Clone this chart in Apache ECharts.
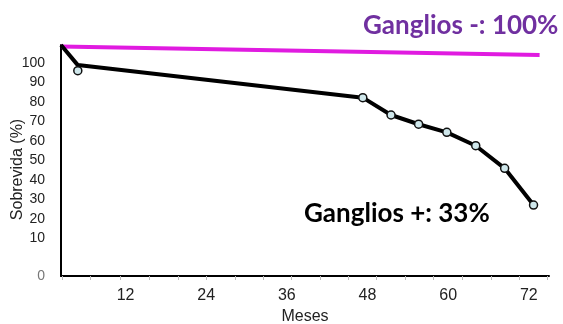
<!DOCTYPE html>
<html>
<head>
<meta charset="utf-8">
<script src="https://cdn.jsdelivr.net/npm/echarts@6/dist/echarts.min.js"></script>
<style>
html,body{margin:0;padding:0;background:#fff;}
#chart{width:563px;height:324px;}
</style>
</head>
<body>
<div id="chart"></div>
<script>
// X axis (months)
var xLabelValues = [12, 24, 36, 48, 60, 72];
var xTickValues = [2.53, 6.75, 11.26, 15.57, 19.78, 24.0, 28.25, 32.52, 36.64, 40.95, 45.16, 49.37, 53.64, 57.8, 62.07, 66.38, 70.59, 74.8];
// Y axis tick labels as drawn on the slide
var yLabelValues = [10, 20, 30, 40, 50, 60, 70, 80, 90, 100];
var yZeroLabel = [0];

// Ganglios + (black curve)
var lineMonths = [2.4, 4.9, 47.3, 51.5, 55.6, 59.8, 64.1, 68.4, 72.7];
var lineValues = [100, 91.3, 77.2, 69.7, 65.7, 62.2, 56.4, 46.6, 30.7];
// Markers on the black curve
var markerMonths = [4.9, 47.3, 51.5, 55.6, 59.8, 64.1, 68.4, 72.7];
var markerValues = [88.9, 77.2, 69.7, 65.7, 62.2, 56.4, 46.6, 30.7];
// Ganglios - (pink line)
var pinkMonths = [2.4, 73.6];
var pinkValues = [99.3, 95.7];

function pairs(xs, ys) { return xs.map(function (x, i) { return [x, ys[i]]; }); }

var chart = echarts.init(document.getElementById('chart'), null, { renderer: 'canvas' });
chart.setOption({
  animation: false,
  backgroundColor: '#ffffff',
  title: [
    { text: 'Ganglios -: 100%', left: 358, top: 8,
      textStyle: { fontFamily: 'Lato', fontWeight: 'bold', fontSize: 26, color: '#7030a0' } },
    { text: 'Ganglios +: 33%', left: 299, top: 196,
      textStyle: { fontFamily: 'Lato', fontWeight: 'bold', fontSize: 26, color: '#000000' } }
  ],
  grid: { left: 61, right: 14, top: 45, bottom: 48, outerBoundsMode: 'none', containLabel: false },
  xAxis: {
    type: 'value', min: 2.4, max: 75,
    name: 'Meses', nameLocation: 'middle', nameGap: 33,
    nameTextStyle: { fontFamily: 'Liberation Sans', fontSize: 16, color: '#222' },
    axisLine: { show: true, onZero: false, lineStyle: { color: '#000', width: 2 } },
    axisTick: { show: true, customValues: xTickValues, length: 4, lineStyle: { color: '#bbbbbb', width: 1 } },
    axisLabel: { customValues: xLabelValues, fontFamily: 'Liberation Sans', fontSize: 16, color: '#222', margin: 12 },
    splitLine: { show: false }
  },
  yAxis: [
    {
      type: 'value', min: 0, max: 100, position: 'left',
      name: 'Sobrevida (%)', nameLocation: 'middle', nameGap: 35, nameRotate: 90,
      nameTextStyle: { fontFamily: 'Liberation Sans', fontSize: 16, color: '#222', padding: [0, 18, 0, 0] },
      axisLine: { show: true, onZero: false, lineStyle: { color: '#000', width: 2 } },
      axisTick: { show: false },
      axisLabel: { customValues: yZeroLabel, fontFamily: 'Liberation Sans', fontSize: 14, color: '#777', margin: 16 },
      splitLine: { show: false }
    },
    {
      type: 'value', min: -9.2, max: 109.2, position: 'left', offset: 0,
      axisLine: { show: false },
      axisTick: { show: false },
      axisLabel: { customValues: yLabelValues, fontFamily: 'Liberation Sans', fontSize: 14, color: '#222', margin: 16 },
      splitLine: { show: false }
    }
  ],
  series: [
    { type: 'line', data: pairs(pinkMonths, pinkValues), yAxisIndex: 0,
      showSymbol: false, symbol: 'none', lineStyle: { color: '#e01be0', width: 4 }, z: 2 },
    { type: 'line', data: pairs(lineMonths, lineValues), yAxisIndex: 0,
      showSymbol: false, symbol: 'none', lineStyle: { color: '#000', width: 4 }, z: 3 },
    { type: 'scatter', data: pairs(markerMonths, markerValues), yAxisIndex: 0,
      symbol: 'circle', symbolSize: 8,
      itemStyle: { color: '#cfe7eb', borderColor: '#111', borderWidth: 1.5, opacity: 1 }, z: 4 }
  ]
});
</script>
</body>
</html>
